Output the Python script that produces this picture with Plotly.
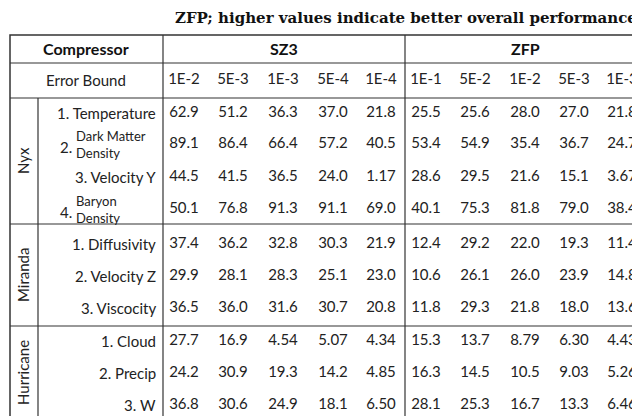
import plotly.graph_objects as go

bounds_sz3 = ["1E-2", "5E-3", "1E-3", "5E-4", "1E-4"]
bounds_zfp = ["1E-1", "5E-2", "1E-2", "5E-3", "1E-3"]
groups = ["Nyx", "Miranda", "Hurricane"]
fields = ["1. Temperature", "2.|Dark Matter|Density", "3. Velocity Y", "4.|Baryon|Density",
          "1. Diffusivity", "2. Velocity Z", "3. Viscocity",
          "1. Cloud", "2. Precip", "3. W"]
sz3 = [
  [62.9, 51.2, 36.3, 37.0, 21.8],
  [89.1, 86.4, 66.4, 57.2, 40.5],
  [44.5, 41.5, 36.5, 24.0, 1.17],
  [50.1, 76.8, 91.3, 91.1, 69.0],
  [37.4, 36.2, 32.8, 30.3, 21.9],
  [29.9, 28.1, 28.3, 25.1, 23.0],
  [36.5, 36.0, 31.6, 30.7, 20.8],
  [27.7, 16.9, 4.54, 5.07, 4.34],
  [24.2, 30.9, 19.3, 14.2, 4.85],
  [36.8, 30.6, 24.9, 18.1, 6.50],
]
zfp = [
  [25.5, 25.6, 28.0, 27.0, 21.8],
  [53.4, 54.9, 35.4, 36.7, 24.7],
  [28.6, 29.5, 21.6, 15.1, 3.67],
  [40.1, 75.3, 81.8, 79.0, 38.4],
  [12.4, 29.2, 22.0, 19.3, 11.4],
  [10.6, 26.1, 26.0, 23.9, 14.8],
  [11.8, 29.3, 21.8, 18.0, 13.6],
  [15.3, 13.7, 8.79, 6.30, 4.43],
  [16.3, 14.5, 10.5, 9.03, 5.26],
  [28.1, 25.3, 16.7, 13.3, 6.46],
]
caption = "ZFP; higher values indicate better overall performance."

FONT = "Lato"
row_y = [105, 136, 169, 201, 236, 268, 300, 333, 365, 397]
col_x = [176, 225, 275, 325, 373, 418, 467, 517, 566, 614]
group_y = [153, 267, 365]


def fmt(v):
  return f"{v:.2f}" if v < 10 else f"{v:.1f}"


fig = go.Figure()

# numeric cells
xs, ys, ts = [], [], []
for i, y in enumerate(row_y):
  for j, v in enumerate(sz3[i] + zfp[i]):
    xs.append(col_x[j])
    ys.append(y)
    ts.append(fmt(v))
fig.add_trace(go.Scatter(x=xs, y=ys, text=ts, mode="text", cliponaxis=False,
                         textfont=dict(family=FONT, size=15, color="#222")))

# error bound header
fig.add_trace(go.Scatter(x=col_x, y=[72] * 10, text=bounds_sz3 + bounds_zfp, mode="text",
                         cliponaxis=False,
                         textfont=dict(family=FONT, size=15, color="#222")))

anns = []
for f, y in zip(fields, row_y):
  if "|" in f:
    num, a, b = f.split("|")
    anns.append(dict(x=66, y=y + 3, text=num, xanchor="right", showarrow=False,
                     font=dict(family=FONT, size=15, color="#222")))
    anns.append(dict(x=66, y=y, text=a + "<br>" + b, xanchor="left", align="left",
                     showarrow=False, font=dict(family=FONT, size=13, color="#222")))
  else:
    anns.append(dict(x=150, y=y, text=f, xanchor="right", showarrow=False,
                     font=dict(family=FONT, size=15, color="#222")))
for g, y in zip(groups, group_y):
  anns.append(dict(x=15, y=y, text=g, textangle=-90, showarrow=False,
                   font=dict(family=FONT, size=15, color="#222")))
anns += [
  dict(x=78, y=40, text="<b>Compressor</b>", showarrow=False, font=dict(family=FONT, size=16, color="#111")),
  dict(x=276, y=40, text="<b>SZ3</b>", showarrow=False, font=dict(family=FONT, size=16, color="#111")),
  dict(x=517, y=40, text="<b>ZFP</b>", showarrow=False, font=dict(family=FONT, size=16, color="#111")),
  dict(x=78, y=72, text="Error Bound", showarrow=False, font=dict(family=FONT, size=15, color="#222")),
  dict(x=636, y=10, text="<b>" + caption + "</b>", xanchor="right", showarrow=False,
       font=dict(family="DejaVu Serif", size=15, color="#111")),
]

shapes = [dict(type="rect", x0=2, x1=637, y0=27, y1=412, line=dict(color="#333", width=1.5))]
for y in [55, 90, 216, 318]:
  shapes.append(dict(type="line", x0=2, x1=637, y0=y, y1=y, line=dict(color="#333", width=1.2)))
for x in [155, 397]:
  shapes.append(dict(type="line", x0=x, x1=x, y0=27, y1=412, line=dict(color="#333", width=1.2)))
shapes.append(dict(type="line", x0=30, x1=30, y0=90, y1=412, line=dict(color="#333", width=1.2)))

fig.update_layout(width=640, height=416, autosize=False, margin=dict(l=0, r=0, t=0, b=0, pad=0),
                  plot_bgcolor="white", paper_bgcolor="white", showlegend=False,
                  annotations=anns, shapes=shapes,
                  xaxis=dict(range=[0, 640], domain=[0, 1], visible=False, fixedrange=True),
                  yaxis=dict(range=[416, 0], domain=[0, 1], visible=False, fixedrange=True))
fig.write_html("out.html", config={"displayModeBar": False, "responsive": False},
               default_width="640px", default_height="416px")
